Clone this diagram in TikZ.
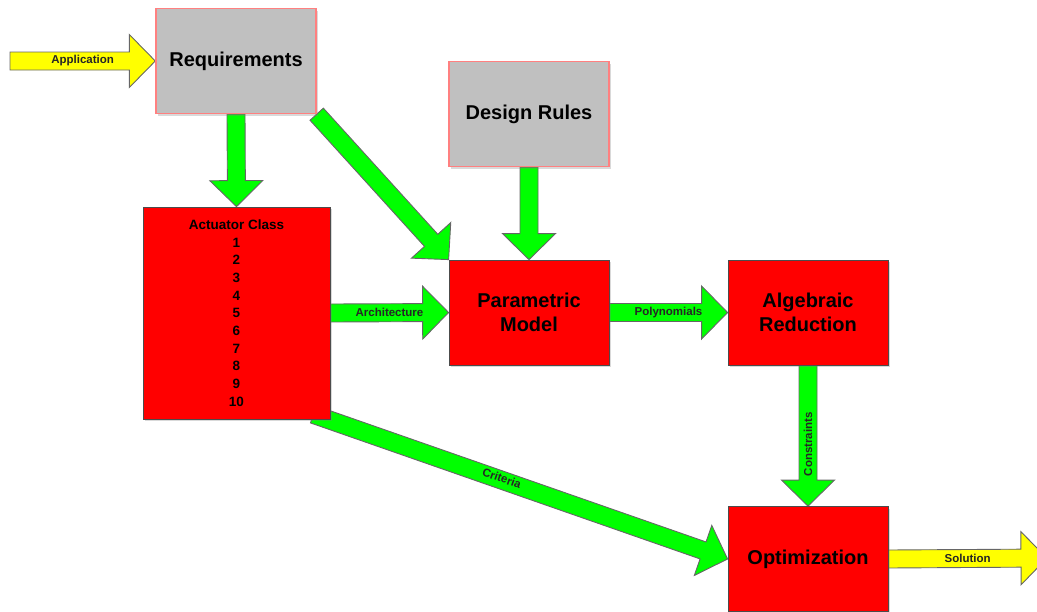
\documentclass[tikz,border=0pt]{standalone}
\usepackage{fontspec}
\setmainfont{Liberation Sans}
\usetikzlibrary{calc,shadows,backgrounds}
\definecolor{boxred}{HTML}{FF0000}
\definecolor{boxgray}{HTML}{C0C0C0}
\definecolor{rimpink}{HTML}{FF8080}
\definecolor{flowgreen}{HTML}{00FF00}
\definecolor{flowyellow}{HTML}{FFFF00}

\begin{document}
\begin{tikzpicture}[x=1pt,y=-1pt]
	\tikzstyle{input}=[rectangle,draw=rimpink,line width=1.4pt,fill=boxgray,minimum width=160pt,minimum height=105pt,font=\fontsize{20}{24}\selectfont\bfseries,drop shadow={shadow xshift=2pt,shadow yshift=-2pt,opacity=.3}]
	\tikzstyle{stage}=[rectangle,draw=black!70,line width=0.8pt,fill=boxred,minimum width=160pt,minimum height=105pt,align=center,font=\fontsize{20}{24}\selectfont\bfseries,drop shadow={shadow xshift=2pt,shadow yshift=-2pt,opacity=.3}]
	\tikzstyle{fat}=[draw=black!60,line width=0.9pt,fill=flowgreen,
		to path={let \p1=(\tikztostart), \p2=(\tikztotarget),
			\n1={atan2(\y2-\y1,\x2-\x1)}, \n2={\n1+90}, \n3={\n1-90},
			\p3=($(\p2)+(\n1+180:26pt)$) in
			($(\p1)+(\n2:9pt)$) -- ($(\p3)+(\n2:9pt)$) -- ($(\p3)+(\n2:26.5pt)$) -- (\p2)
			-- ($(\p3)+(\n3:26.5pt)$) -- ($(\p3)+(\n3:9pt)$) -- ($(\p1)+(\n3:9pt)$) -- cycle}]
	\tikzstyle{lbl}=[font=\fontsize{11.5}{13}\selectfont\bfseries,text=black!85,inner sep=0pt]
	\useasboundingbox (0,0) rectangle (1037,611);
	\clip (0,0) rectangle (1037,611);

	% boxes
	\node[input](req) at (236,61) {Requirements};
	\node[input](rules) at (529,114) {Design Rules};
	\node[stage,minimum width=187pt,minimum height=212pt,font=\fontsize{13.5}{17.7}\selectfont\bfseries](act) at (236.5,313)
		{Actuator Class\\1\\2\\3\\4\\5\\6\\7\\8\\9\\10};
	\node[stage](param) at (529,312.5) {Parametric\\Model};
	\node[stage](alg) at (808,312.5) {Algebraic\\Reduction};
	\node[stage](opt) at (808,559) {Optimization};
	\coordinate (appin) at (10,61);
	\coordinate (solout) at (1047,558);
	\coordinate (critin) at ($(act.south east)+(-17,-5)$);

	% block arrows
	\begin{pgfonlayer}{background}
	\draw[fat,fill=flowyellow] (appin) to (req.west);
	\draw[fat] (req.south) to (act.north);
	\draw[fat] (req.south east) to (param.north west);
	\draw[fat] (rules.south) to (param.north);
	\draw[fat] (act.east) to (param.west);
	\draw[fat] (param.east) to (alg.west);
	\draw[fat] (alg.south) to (opt.north);
	\draw[fat] (critin) to (opt.west);
	\draw[fat,fill=flowyellow] (opt.east) to (solout);
	\end{pgfonlayer}

	% arrow labels
	\node[lbl](lapp) at ($(appin)!0.5!(req.west)$) {Application};
	\node[lbl](larch) at ($(act.east)!0.5!(param.west)$) {Architecture};
	\node[lbl](lpoly) at ($(param.east)!0.5!(alg.west)$) {Polynomials};
	\node[lbl,rotate=90](lcons) at ($(alg.south)!0.56!(opt.north)$) {Constraints};
	\node[lbl,rotate=-19.3](lcrit) at ($(critin)!0.455!(opt.west)+(0,-2)$) {Criteria};
	\node[lbl](lsol) at ($(opt.east)!0.5!(solout)$) {Solution};
\end{tikzpicture}
\end{document}
